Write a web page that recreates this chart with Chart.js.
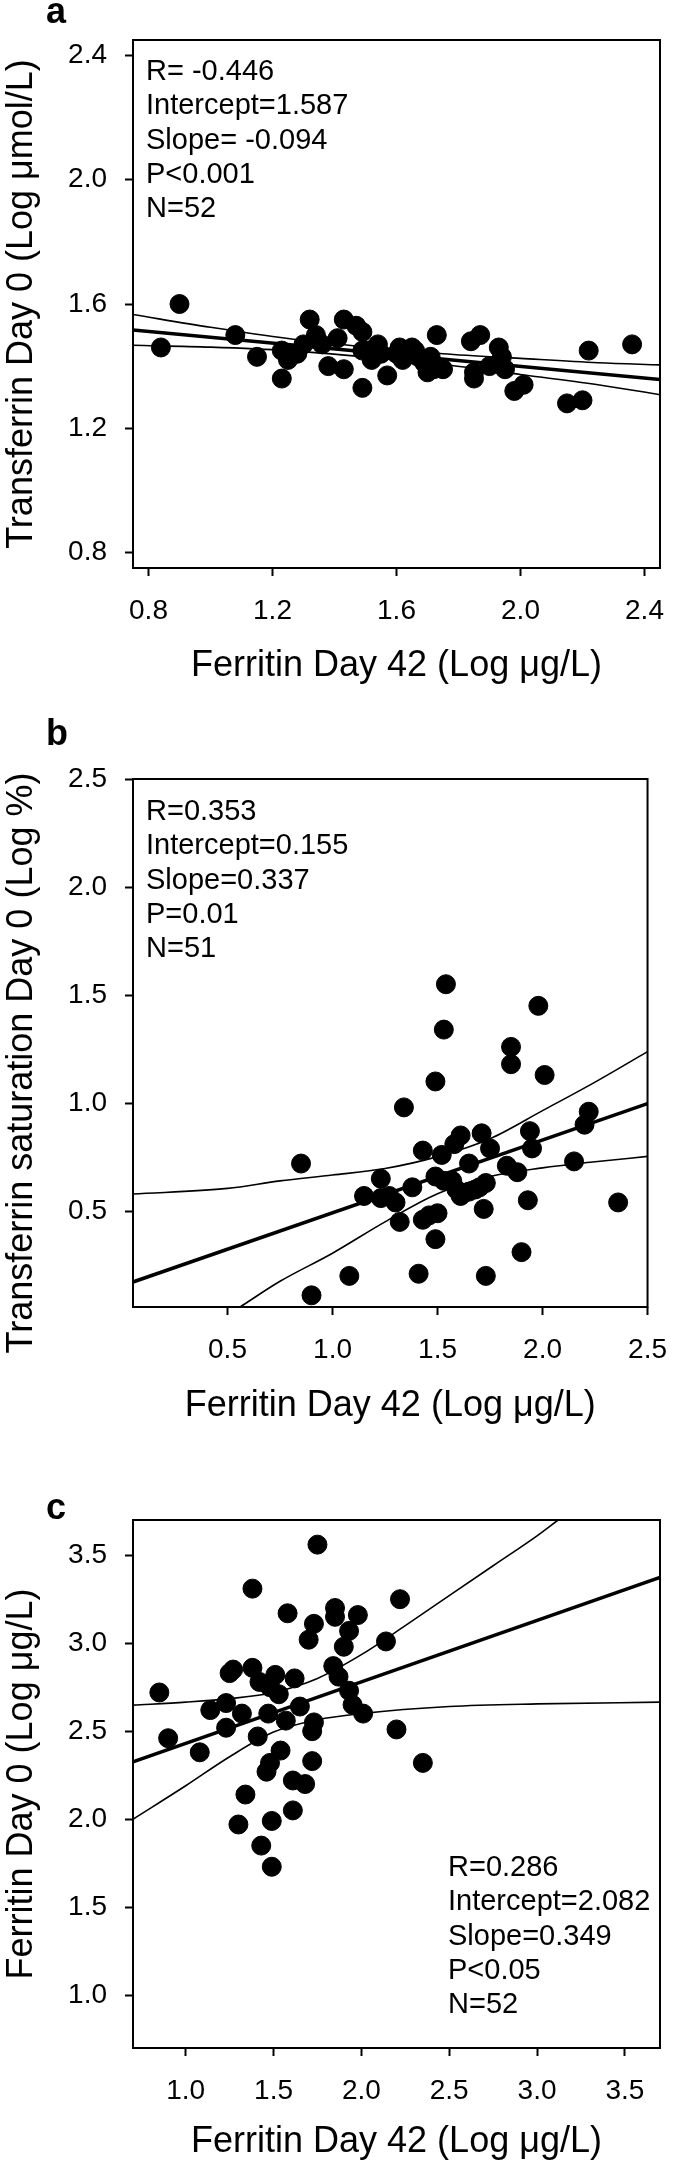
<!DOCTYPE html>
<html>
<head>
<meta charset="utf-8">
<script src="https://cdn.jsdelivr.net/npm/chart.js@4.4.1/dist/chart.umd.min.js"></script>
<style>
  html, body { margin: 0; padding: 0; background: #fff; }
  #wrap { position: relative; width: 685px; height: 2166px; }
  canvas { position: absolute; left: 0; }
</style>
</head>
<body>
<div id="wrap">
  <canvas id="pa" width="685" height="700" style="top:0px"></canvas>
  <canvas id="pb" width="685" height="740" style="top:700px"></canvas>
  <canvas id="pc" width="685" height="726" style="top:1440px"></canvas>
</div>
<script>
const FONT = "'Liberation Sans', Arial, sans-serif";

// panel a: ferritin day 42 vs transferrin day 0
const ferritinA = [0.84,0.90,1.08,1.15,1.23,1.23,1.25,1.28,1.30,1.32,1.34,1.36,1.38,1.41,1.43,1.43,1.47,1.49,1.49,1.49,
  1.51,1.52,1.54,1.55,1.57,1.60,1.61,1.62,1.63,1.65,1.66,1.67,1.69,1.70,1.71,1.72,1.73,1.75,1.84,1.85,
  1.85,1.87,1.90,1.93,1.94,1.95,1.98,2.01,2.15,2.20,2.22,2.36];
const transferrinA = [1.46,1.60,1.50,1.43,1.36,1.45,1.42,1.44,1.47,1.55,1.50,1.47,1.40,1.49,1.55,1.39,1.53,1.51,1.33,1.45,
  1.45,1.42,1.47,1.44,1.37,1.44,1.46,1.42,1.44,1.46,1.45,1.43,1.41,1.38,1.43,1.39,1.50,1.39,1.48,1.36,
  1.38,1.50,1.40,1.46,1.43,1.39,1.32,1.34,1.28,1.29,1.45,1.47];
const fitA = { intercept: 1.587, slope: -0.094 };
const bandXA = [0.75,1.0,1.25,1.5,1.75,2.0,2.25,2.45];
const upperA = [1.566,1.525,1.489,1.462,1.440,1.425,1.411,1.404];
const lowerA = [1.467,1.461,1.450,1.430,1.405,1.373,1.340,1.308];
const xTicksA = [0.8,1.2,1.6,2.0,2.4];
const yTicksA = [0.8,1.2,1.6,2.0,2.4];
const statsA = ['R= -0.446','Intercept=1.587','Slope= -0.094','P<0.001','N=52'];

// panel b: ferritin day 42 vs transferrin saturation day 0
const ferritinB = [0.85,0.90,1.08,1.15,1.23,1.23,1.27,1.30,1.32,1.34,1.38,1.41,1.43,1.43,1.46,1.49,1.49,1.49,1.50,1.52,
  1.53,1.53,1.54,1.57,1.58,1.59,1.61,1.61,1.65,1.65,1.68,1.70,1.71,1.72,1.73,1.73,1.75,1.83,1.85,1.85,
  1.88,1.90,1.93,1.94,1.95,1.98,2.01,2.15,2.20,2.22,2.36];
const saturationB = [0.72,0.11,0.20,0.57,0.56,0.65,0.57,0.54,0.45,0.98,0.61,0.21,0.78,0.46,0.48,0.66,1.10,0.37,0.49,0.76,
  1.34,0.64,1.55,0.64,0.81,0.60,0.85,0.57,0.59,0.72,0.60,0.61,0.86,0.51,0.63,0.20,0.79,0.71,1.26,1.18,
  0.68,0.31,0.55,0.87,0.79,1.45,1.13,0.73,0.90,0.96,0.54];
const fitB = { intercept: 0.155, slope: 0.337 };
const upXB = [0.05,0.5,0.75,1.0,1.25,1.5,1.75,2.0,2.25,2.5];
const upperB = [0.579,0.605,0.640,0.667,0.697,0.752,0.835,0.965,1.097,1.238];
const loXB = [0.56,0.75,1.0,1.25,1.5,1.75,2.0,2.25,2.5];
const lowerB = [0.056,0.175,0.305,0.450,0.580,0.660,0.700,0.728,0.753];
const xTicksB = [0.5,1.0,1.5,2.0,2.5];
const yTicksB = [0.5,1.0,1.5,2.0,2.5];
const statsB = ['R=0.353','Intercept=0.155','Slope=0.337','P=0.01','N=51'];

// panel c: ferritin day 42 vs ferritin day 0
const ferritinC = [0.85,0.90,1.08,1.14,1.23,1.23,1.25,1.27,1.30,1.32,1.34,1.38,1.38,1.41,1.42,1.43,1.46,1.47,1.48,1.48,
  1.49,1.49,1.51,1.53,1.54,1.57,1.58,1.61,1.61,1.62,1.65,1.68,1.70,1.72,1.72,1.73,1.73,1.75,1.84,1.85,
  1.85,1.87,1.90,1.93,1.93,1.95,1.98,2.01,2.14,2.20,2.22,2.35];
const ferritin0C = [2.72,2.46,2.38,2.62,2.66,2.52,2.83,2.85,1.97,2.60,2.14,3.31,2.86,2.47,2.78,1.85,2.27,2.60,2.75,2.32,
  1.99,1.73,2.82,2.71,2.39,2.56,3.17,2.22,2.05,2.80,2.64,2.20,3.02,2.50,2.33,2.55,3.11,3.56,2.87,3.20,
  3.15,2.81,2.98,3.07,2.73,2.65,3.16,2.60,3.01,2.51,3.25,2.32];
const fitC = { intercept: 2.082, slope: 0.349 };
const upXC = [0.7,1.0,1.25,1.5,1.75,2.0,2.25,2.5,2.75,3.0,3.12];
const upperC = [2.648,2.665,2.685,2.720,2.800,2.935,3.100,3.270,3.440,3.610,3.700];
const loXC = [0.7,1.0,1.25,1.5,1.75,2.0,2.5,3.0,3.7];
const lowerC = [2.000,2.190,2.355,2.495,2.565,2.600,2.640,2.655,2.665];
const xTicksC = [1.0,1.5,2.0,2.5,3.0,3.5];
const yTicksC = [1.0,1.5,2.0,2.5,3.0,3.5];
const statsC = ['R=0.286','Intercept=2.082','Slope=0.349','P<0.05','N=52'];

const xTitle = 'Ferritin Day 42 (Log μg/L)';

function pts(xs, ys) { return xs.map((x, i) => ({ x: x, y: ys[i] })); }

// box round the plot, panel letter and the stats block
const framePlugin = {
  id: 'frame',
  afterDraw(chart, args, o) {
    const { ctx, chartArea: a } = chart;
    ctx.save();
    ctx.strokeStyle = '#000';
    ctx.lineWidth = 2;
    ctx.strokeRect(a.left, a.top, a.right - a.left, a.bottom - a.top);
    ctx.fillStyle = '#000';
    ctx.textAlign = 'left';
    ctx.textBaseline = 'alphabetic';
    ctx.font = 'bold 36px ' + FONT;
    ctx.fillText(o.letter, 46, a.top + o.letterDy);
    ctx.font = '29px ' + FONT;
    ctx.textBaseline = 'middle';
    o.stats.forEach((s, i) => ctx.fillText(s, a.left + o.statsDx, a.top + o.statsDy + i * 34.3));
    ctx.restore();
  }
};

function axis(min, max, ticks, title, opts) {
  return {
    type: 'linear',
    min: min, max: max,
    afterBuildTicks: s => { s.ticks = ticks.map(v => ({ value: v })); },
    afterFit: opts.fit,
    grid: { display: true, drawOnChartArea: false, drawTicks: true, tickLength: 8, tickWidth: 2, tickColor: '#000' },
    border: { display: false },
    ticks: { color: '#000', font: { size: 28, family: FONT }, padding: opts.pad, callback: v => v.toFixed(1), maxRotation: 0 },
    title: { display: true, text: title, color: '#000', font: { size: 36, family: FONT }, padding: opts.titlePad }
  };
}

function makePanel(id, p) {
  const line = (data, w) => ({
    type: 'line', data: data, borderColor: '#000', borderWidth: w, pointRadius: 0,
    fill: false, cubicInterpolationMode: 'monotone', order: 2
  });
  const fit = [
    { x: p.xMin, y: p.fit.intercept + p.fit.slope * p.xMin },
    { x: p.xMax, y: p.fit.intercept + p.fit.slope * p.xMax }
  ];
  new Chart(document.getElementById(id), {
    type: 'scatter',
    data: {
      datasets: [
        { data: pts(p.xs, p.ys), backgroundColor: '#000', borderColor: '#000', borderWidth: 1, pointRadius: 9.5, order: 1 },
        line(fit, 3.5),
        line(pts(p.upX, p.up), 1.6),
        line(pts(p.loX, p.lo), 1.6)
      ]
    },
    options: {
      responsive: false,
      animation: false,
      devicePixelRatio: 1,
      layout: { padding: { top: p.top, right: 25, left: 0, bottom: 0 } },
      plugins: {
        legend: { display: false },
        tooltip: { enabled: false },
        frame: { letter: p.letter, letterDy: p.letterDy, stats: p.stats, statsDx: p.statsDx, statsDy: p.statsDy }
      },
      scales: {
        x: axis(p.xMin, p.xMax, p.xTicks, xTitle, { fit: s => { s.height = p.xAxisH; }, pad: 18, titlePad: { top: 0, bottom: p.xTitleBottom } }),
        y: axis(p.yMin, p.yMax, p.yTicks, p.yTitle, { fit: s => { s.width = 133; }, pad: 18, titlePad: { top: 0, bottom: 0 } })
      }
    },
    plugins: [framePlugin]
  });
}

makePanel('pa', {
  xs: ferritinA, ys: transferrinA, fit: fitA, upX: bandXA, up: upperA, loX: bandXA, lo: lowerA,
  xMin: 0.75, xMax: 2.45, yMin: 0.75, yMax: 2.45, xTicks: xTicksA, yTicks: yTicksA,
  yTitle: 'Transferrin Day 0 (Log μmol/L)', stats: statsA, letter: 'a',
  top: 40, xAxisH: 132, xTitleBottom: 12, letterDy: -17, statsDx: 13, statsDy: 32
});
makePanel('pb', {
  xs: ferritinB, ys: saturationB, fit: fitB, upX: upXB, up: upperB, loX: loXB, lo: lowerB,
  xMin: 0.05, xMax: 2.5, yMin: 0.056, yMax: 2.5, xTicks: xTicksB, yTicks: yTicksB,
  yTitle: 'Transferrin saturation Day 0 (Log %)\u00a0\u00a0\u00a0\u00a0', stats: statsB, letter: 'b',
  top: 79, xAxisH: 133, xTitleBottom: 12, letterDy: -34, statsDx: 13, statsDy: 33
});
makePanel('pc', {
  xs: ferritinC, ys: ferritin0C, fit: fitC, upX: upXC, up: upperC, loX: loXC, lo: lowerC,
  xMin: 0.7, xMax: 3.7, yMin: 0.7, yMax: 3.7, xTicks: xTicksC, yTicks: yTicksC,
  yTitle: 'Ferritin Day 0 (Log μg/L)', stats: statsC, letter: 'c',
  top: 80, xAxisH: 118, xTitleBottom: 2, letterDy: -1, statsDx: 315, statsDy: 348
});
</script>
</body>
</html>
